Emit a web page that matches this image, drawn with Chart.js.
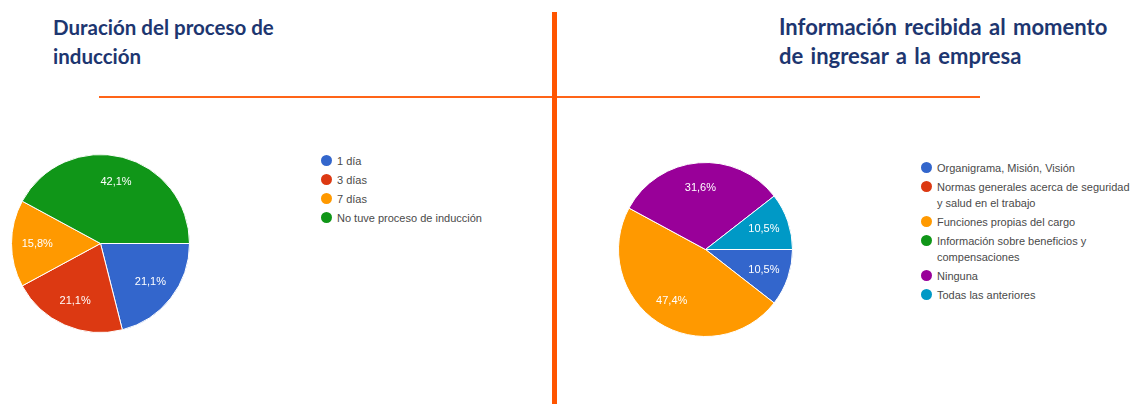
<!DOCTYPE html>
<html>
<head>
<meta charset="utf-8">
<script src="https://cdn.jsdelivr.net/npm/chart.js@4/dist/chart.umd.min.js"></script>
<style>
  html, body { margin: 0; padding: 0; background: #fff; }
  body { position: relative; width: 1144px; height: 404px; overflow: hidden; font-family: "Liberation Sans", Arial, sans-serif; }
  .titulo { position: absolute; font-family: Lato, sans-serif; font-weight: 700; font-size: 20.5px; line-height: 29px; color: #1d3670; white-space: nowrap; }
  .linea { position: absolute; background: #ff6418; }
  .leyenda { position: absolute; font-size: 11px; line-height: 16px; color: #4a4a4a; }
  .item { position: relative; padding-left: 10px; margin-bottom: 3px; white-space: nowrap; }
  .punto { position: absolute; left: -6px; top: 2px; width: 11px; height: 11px; border-radius: 50%; }
  canvas { position: absolute; }
</style>
</head>
<body>

<div class="titulo" style="left:53px; top:13px;">Duración del proceso de<br>inducción</div>
<div class="titulo" style="left:779px; top:12px; font-size:22px; word-spacing:2px;">Información recibida al momento<br>de ingresar a la empresa</div>

<div class="linea" style="left:99px; top:96px; width:454px; height:2px;"></div>
<div class="linea" style="left:557px; top:96px; width:423px; height:2px;"></div>
<div class="linea" style="left:552px; top:12px; width:5px; height:392px; background:#ff5500;"></div>

<canvas id="pieDuracion" width="179" height="179" style="left:11px; top:154px;"></canvas>
<canvas id="pieInformacion" width="175" height="175" style="left:618px; top:162px;"></canvas>

<div class="leyenda" id="leyendaDuracion" style="left:327px; top:153px;"></div>
<div class="leyenda" id="leyendaInformacion" style="left:927px; top:160px;"></div>

<script>
/* ---------- datos ---------- */
const duracionLabels = ["1 día", "3 días", "7 días", "No tuve proceso de inducción"];
const duracionValores = [4, 4, 3, 8];
const duracionColores = ["#3366cc", "#dc3912", "#ff9900", "#109618"];

const infoLabels = [
    "Organigrama, Misión, Visión",
    ["Normas generales acerca de seguridad", "y salud en el trabajo"],
    "Funciones propias del cargo",
    ["Información sobre beneficios y", "compensaciones"],
    "Ninguna",
    "Todas las anteriores"
];
const infoValores = [2, 0, 9, 0, 6, 2];
const infoColores = ["#3366cc", "#dc3912", "#ff9900", "#109618", "#990099", "#0099c6"];

/* ---------- etiquetas de porcentaje dentro de cada porción ---------- */
const porcentajes = {
    id: "porcentajes",
    afterDatasetsDraw(chart) {
        const ctx = chart.ctx;
        const valores = chart.data.datasets[0].data;
        const total = valores.reduce((a, b) => a + b, 0);
        const meta = chart.getDatasetMeta(0);
        ctx.save();
        ctx.fillStyle = "#ffffff";
        ctx.font = "11px 'Liberation Sans', Arial, sans-serif";
        ctx.textAlign = "center";
        ctx.textBaseline = "middle";
        meta.data.forEach((arc, i) => {
            if (!valores[i]) return;
            const p = arc.getProps(["x", "y", "startAngle", "endAngle", "outerRadius"], true);
            const medio = (p.startAngle + p.endAngle) / 2;
            const r = p.outerRadius * 0.71;
            const texto = (valores[i] / total * 100).toFixed(1).replace(".", ",") + "%";
            ctx.fillText(texto, p.x + Math.cos(medio) * r, p.y + Math.sin(medio) * r);
        });
        ctx.restore();
    }
};

function buildPie(id, labels, valores, colores) {
    const ctx = document.getElementById(id).getContext("2d");
    return new Chart(ctx, {
        type: "pie",
        data: {
            labels: labels,
            datasets: [{
                data: valores,
                backgroundColor: colores,
                borderColor: "#ffffff",
                borderWidth: 1
            }]
        },
        options: {
            responsive: false,
            animation: false,
            devicePixelRatio: 1,
            rotation: 90,
            layout: { padding: 0 },
            plugins: {
                legend: { display: false },
                tooltip: { enabled: false }
            }
        },
        plugins: [porcentajes]
    });
}

function buildLeyenda(id, labels, colores) {
    const cont = document.getElementById(id);
    labels.forEach((lab, i) => {
        const item = document.createElement("div");
        item.className = "item";
        const punto = document.createElement("span");
        punto.className = "punto";
        punto.style.background = colores[i];
        item.appendChild(punto);
        const lineas = Array.isArray(lab) ? lab : [lab];
        lineas.forEach((l, j) => {
            if (j > 0) item.appendChild(document.createElement("br"));
            item.appendChild(document.createTextNode(l));
        });
        cont.appendChild(item);
    });
}

buildPie("pieDuracion", duracionLabels, duracionValores, duracionColores);
buildPie("pieInformacion", infoLabels, infoValores, infoColores);
buildLeyenda("leyendaDuracion", duracionLabels, duracionColores);
buildLeyenda("leyendaInformacion", infoLabels, infoColores);
</script>
</body>
</html>
